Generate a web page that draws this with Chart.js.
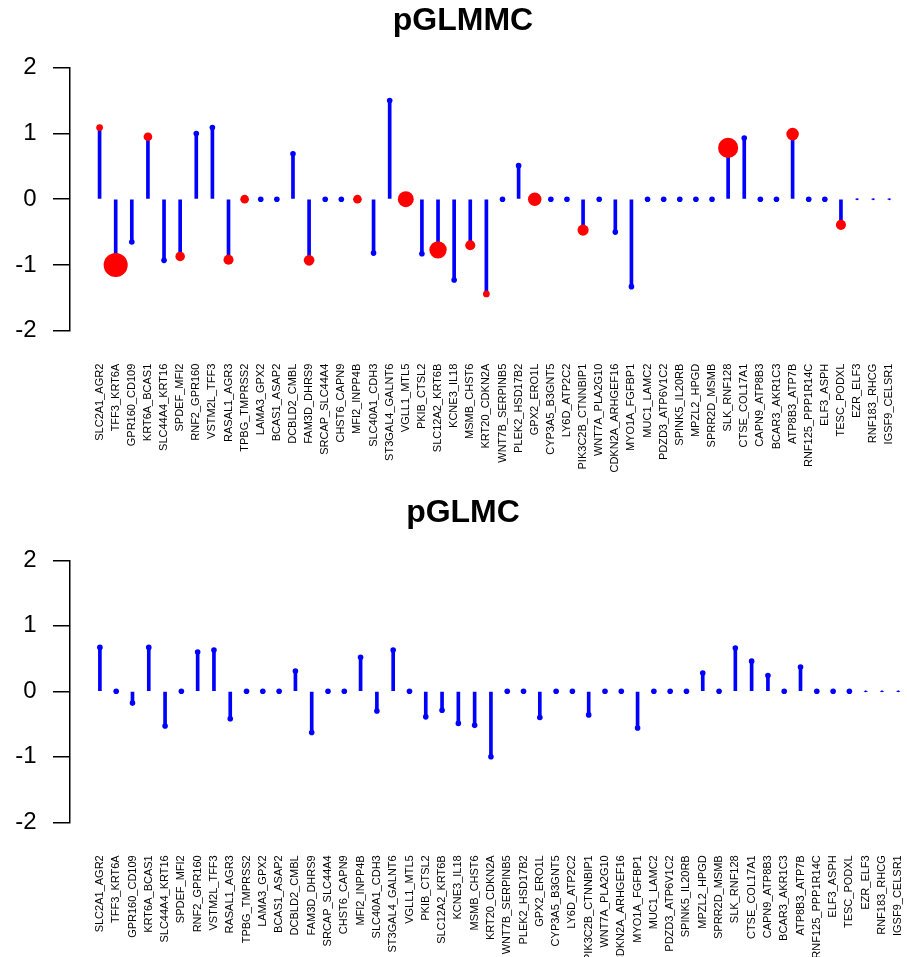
<!DOCTYPE html>
<html>
<head>
<meta charset="utf-8">
<script src="https://cdn.jsdelivr.net/npm/chart.js@4/dist/chart.umd.min.js"></script>
<style>
  html, body { margin: 0; padding: 0; background: #fff; overflow: hidden; width: 907px; height: 957px; }
  canvas { position: absolute; left: 0; }
  #topPanel { top: 0; }
  #bottomPanel { top: 490px; }
</style>
</head>
<body>
<canvas id="topPanel" width="926" height="490"></canvas>
<canvas id="bottomPanel" width="926" height="467"></canvas>
<script>
// Gene pairs along the x axis
const categories = [
  "SLC2A1_AGR2", "TFF3_KRT6A", "GPR160_CD109", "KRT6A_BCAS1", "SLC44A4_KRT16",
  "SPDEF_MFI2", "RNF2_GPR160", "VSTM2L_TFF3", "RASAL1_AGR3", "TPBG_TMPRSS2",
  "LAMA3_GPX2", "BCAS1_ASAP2", "DCBLD2_CMBL", "FAM3D_DHRS9", "SRCAP_SLC44A4",
  "CHST6_CAPN9", "MFI2_INPP4B", "SLC40A1_CDH3", "ST3GAL4_GALNT6", "VGLL1_MTL5",
  "PKIB_CTSL2", "SLC12A2_KRT6B", "KCNE3_IL18", "MSMB_CHST6", "KRT20_CDKN2A",
  "WNT7B_SERPINB5", "PLEK2_HSD17B2", "GPX2_ERO1L", "CYP3A5_B3GNT5", "LY6D_ATP2C2",
  "PIK3C2B_CTNNBIP1", "WNT7A_PLA2G10", "CDKN2A_ARHGEF16", "MYO1A_FGFBP1", "MUC1_LAMC2",
  "PDZD3_ATP6V1C2", "SPINK5_IL20RB", "MPZL2_HPGD", "SPRR2D_MSMB", "SLK_RNF128",
  "CTSE_COL17A1", "CAPN9_ATP8B3", "BCAR3_AKR1C3", "ATP8B3_ATP7B", "RNF125_PPP1R14C",
  "ELF3_ASPH", "TESC_PODXL", "EZR_ELF3", "RNF183_RHCG", "IGSF9_CELSR1"
];

// pGLMMC coefficients per pair
const pglmmc = [
  1.09, -1.00, -0.65, 0.95, -0.93, -0.87, 1.00, 1.09, -0.92, 0,
  0, 0, 0.69, -0.93, 0, 0, 0, -0.82, 1.50, 0,
  -0.83, -0.77, -1.23, -0.70, -1.44, 0, 0.51, 0, 0, 0,
  -0.47, 0, -0.50, -1.33, 0, 0, 0, 0, 0, 0.78,
  0.93, 0, 0, 0.99, 0, 0, -0.39, 0, 0, 0
];

// pGLMC coefficients per pair
const pglmc = [
  0.67, 0, -0.18, 0.67, -0.53, 0, 0.60, 0.63, -0.42, 0,
  0, 0, 0.31, -0.63, 0, 0, 0.52, -0.30, 0.63, 0,
  -0.39, -0.29, -0.49, -0.52, -1.00, 0, 0, -0.40, 0, 0,
  -0.36, 0, 0, -0.56, 0, 0, 0, 0.28, 0, 0.66,
  0.46, 0.24, 0, 0.37, 0, 0, 0, 0, 0, 0
];

// Relative marker weight of every pair (the trailing pairs carry very little)
const pairWeight = [
  1, 1, 1, 1, 1, 1, 1, 1, 1, 1,
  1, 1, 1, 1, 1, 1, 1, 1, 1, 1,
  1, 1, 1, 1, 1, 1, 1, 1, 1, 1,
  1, 1, 1, 1, 1, 1, 1, 1, 1, 1,
  1, 1, 1, 1, 1, 1, 1, 0.35, 0.35, 0.35
];

// Highlighted pairs in the pGLMMC panel with their marker weight (0 = not highlighted)
const highlightTop = [
  1.2, 4.3, 0, 1.55, 0, 1.7, 0, 0, 1.8, 1.55,
  0, 0, 0, 1.9, 0, 0, 1.55, 0, 0, 2.85,
  0, 3.1, 0, 1.8, 1.2, 0, 0, 2.4, 0, 0,
  2.0, 0, 0, 0, 0, 0, 0, 0, 0, 3.6,
  0, 0, 0, 2.25, 0, 0, 1.8, 0, 0, 0
];
const highlightBottom = categories.map(() => 0);

const yTicks = [-2, -1, 0, 1, 2];

// ---- styling ----
const FONT = "'Liberation Sans', Arial, Helvetica, sans-serif";
const BLUE = "#0000FF";
const RED = "#FF0000";
const BASE_RADIUS = 2.8;
Chart.defaults.color = "#000";
Chart.defaults.font.family = FONT;

function makePanel(canvasId, title, values, highlight, titlePad, xAxisHeight) {
  const points = values.map((v, i) => ({ x: i + 1, y: v }));
  return new Chart(document.getElementById(canvasId), {
    type: "bar",
    data: {
      datasets: [
        {
          type: "bar",
          data: points,
          backgroundColor: BLUE,
          borderWidth: 0,
          barThickness: 3,
          order: 2
        },
        {
          type: "scatter",
          data: points,
          pointRadius: values.map((v, i) => (highlight[i] ? highlight[i] : pairWeight[i]) * BASE_RADIUS),
          pointBackgroundColor: values.map((v, i) => (highlight[i] ? RED : BLUE)),
          pointBorderWidth: 0,
          pointHoverRadius: 0,
          showLine: false,
          order: 1
        }
      ]
    },
    options: {
      responsive: false,
      animation: false,
      devicePixelRatio: 1,
      layout: { padding: 0 },
      plugins: {
        legend: { display: false },
        tooltip: { enabled: false },
        title: {
          display: true,
          text: title,
          color: "#000",
          font: { family: FONT, size: 32, weight: "bold", lineHeight: 1.2 },
          padding: titlePad
        }
      },
      scales: {
        x: {
          type: "linear",
          offset: false,
          min: -0.835,
          max: 51.53,
          afterBuildTicks(scale) {
            scale.ticks = categories.map((c, i) => ({ value: i + 1 }));
          },
          afterFit(scale) {
            scale.height = xAxisHeight;
            scale.paddingLeft = 0;
            scale.paddingRight = 0;
          },
          grid: { display: false, drawTicks: false },
          border: { display: false },
          ticks: {
            autoSkip: false,
            minRotation: 90,
            maxRotation: 90,
            padding: 33,
            color: "#000",
            font: { family: FONT, size: 11 },
            callback: (v) => categories[v - 1]
          }
        },
        y: {
          type: "linear",
          min: yTicks[0],
          max: yTicks[yTicks.length - 1],
          afterBuildTicks(scale) {
            scale.ticks = yTicks.map((v) => ({ value: v }));
          },
          afterFit(scale) {
            scale.width = 70;
          },
          grid: {
            drawOnChartArea: false,
            drawTicks: true,
            tickLength: 17,
            color: "#000",
            lineWidth: 1.5
          },
          border: { display: true, color: "#000", width: 1.5 },
          ticks: {
            padding: 16.5,
            color: "#000",
            font: { family: FONT, size: 24 },
            callback: (v) => String(v)
          }
        }
      }
    }
  });
}

makePanel("topPanel", "pGLMMC", pglmmc, highlightTop, { top: 1.8, bottom: 27.5 }, 159.3);
makePanel("bottomPanel", "pGLMC", pglmc, highlightBottom, { top: 3.8, bottom: 28.1 }, 134.7);
</script>
</body>
</html>
